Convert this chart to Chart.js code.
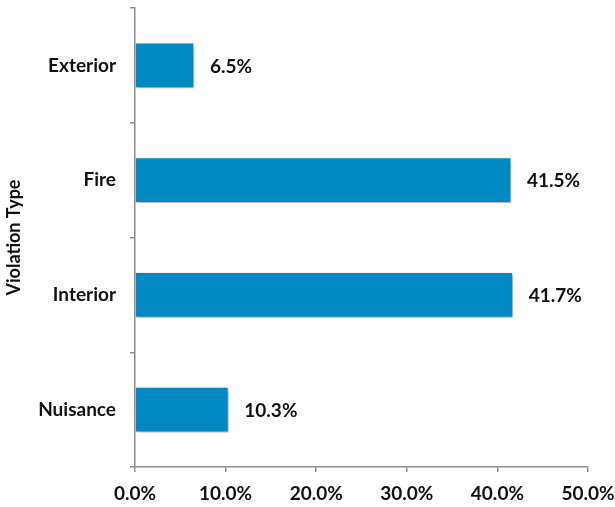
<!DOCTYPE html>
<html>
<head>
<meta charset="utf-8">
<script src="https://cdn.jsdelivr.net/npm/chart.js@4/dist/chart.umd.min.js"></script>
<style>
  html, body { margin: 0; padding: 0; background: #fff; }
  #wrap { width: 615px; height: 507px; }
</style>
</head>
<body>
<div id="wrap"><canvas id="chart" width="615" height="507"></canvas></div>
<script>
// data
const categories = ["Exterior", "Fire", "Interior", "Nuisance"];
const shares = [6.5, 41.5, 41.7, 10.3];
const xTicks = [0, 10, 20, 30, 40, 50];

const barColor = "#0088C2";
const axisColor = "#8C8C8C";
const textColor = "#111111";
const fontFamily = "Lato, 'Liberation Sans', sans-serif";

// shadow under bars
const barShadow = {
  id: "barShadow",
  beforeDatasetsDraw(chart) {
    const ctx = chart.ctx;
    ctx.save();
    ctx.shadowColor = "rgba(0,0,0,0.35)";
    ctx.shadowBlur = 4;
    ctx.shadowOffsetX = 2;
    ctx.shadowOffsetY = 2;
  },
  afterDatasetsDraw(chart) {
    chart.ctx.restore();
  }
};

// value labels right of the bars
const valueLabels = {
  id: "valueLabels",
  afterDatasetsDraw(chart) {
    const ctx = chart.ctx;
    const meta = chart.getDatasetMeta(0);
    ctx.save();
    ctx.font = "bold 19px " + fontFamily;
    ctx.fillStyle = textColor;
    ctx.textAlign = "left";
    ctx.textBaseline = "middle";
    meta.data.forEach((bar, i) => {
      ctx.fillText(shares[i].toFixed(1) + "%", bar.x + 16, bar.y + 1);
    });
    ctx.restore();
  }
};

new Chart(document.getElementById("chart"), {
  type: "bar",
  data: {
    labels: categories,
    datasets: [{
      data: shares,
      backgroundColor: barColor,
      borderColor: "#ffffff",
      borderWidth: 1,
      barThickness: 45
    }]
  },
  options: {
    indexAxis: "y",
    responsive: false,
    animation: false,
    layout: { padding: { top: 8, right: 27, left: 0, bottom: 0 } },
    plugins: {
      legend: { display: false },
      tooltip: { enabled: false }
    },
    scales: {
      x: {
        min: 0,
        max: 50,
        afterBuildTicks: (scale) => { scale.ticks = xTicks.map(v => ({ value: v })); },
        afterFit: (scale) => { scale.height = 40; scale.paddingLeft = 0; scale.paddingRight = 0; },
        grid: { drawOnChartArea: false, color: axisColor, tickLength: 5, lineWidth: 1.5 },
        border: { color: axisColor, width: 1.5 },
        ticks: {
          padding: 10,
          color: textColor,
          font: { family: fontFamily, size: 19, weight: "bold" },
          callback: (v) => Number(v).toFixed(1) + "%"
        }
      },
      y: {
        afterFit: (scale) => { scale.width = 135; scale.paddingTop = 0; scale.paddingBottom = 0; },
        grid: { drawOnChartArea: false, color: axisColor, tickLength: 5, lineWidth: 1.5, offset: true },
        border: { color: axisColor, width: 1.5 },
        ticks: {
          padding: 14,
          color: textColor,
          font: { family: fontFamily, size: 19, weight: "bold" }
        },
        title: {
          display: true,
          text: "Violation Type",
          color: textColor,
          padding: { top: 3, bottom: 0 },
          font: { family: fontFamily, size: 18, weight: "bold" }
        }
      }
    }
  },
  plugins: [barShadow, valueLabels]
});
</script>
</body>
</html>
